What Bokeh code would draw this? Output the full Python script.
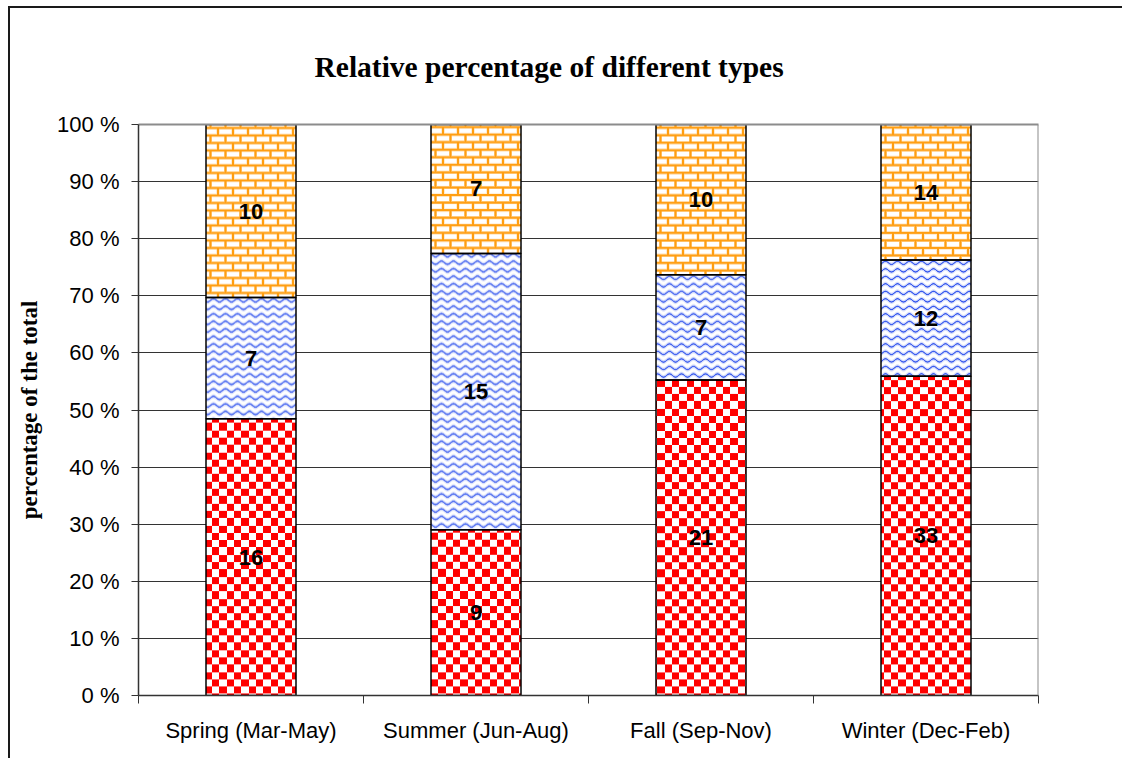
import numpy as np
from bokeh.plotting import figure
from bokeh.models import FixedTicker, Span, Range1d, LinearAxis
from bokeh.core.properties import value
from bokeh.embed import file_html
from bokeh.resources import INLINE

# Counts per season for the three types (bottom -> top of each stack)
seasons = ["Spring (Mar-May)", "Summer (Jun-Aug)", "Fall (Sep-Nov)", "Winter (Dec-Feb)"]
type_red = [16, 9, 21, 33]
type_blue = [7, 15, 7, 12]
type_orange = [10, 7, 10, 14]

y_ticks = [0, 10, 20, 30, 40, 50, 60, 70, 80, 90, 100]
y_tick_labels = ["0 %", "10 %", "20 %", "30 %", "40 %", "50 %", "60 %", "70 %", "80 %", "90 %", "100 %"]

# Convert counts into stacked percentage segments
counts = np.array([type_red, type_blue, type_orange], dtype=float)
totals = counts.sum(axis=0)
pct = counts / totals * 100.0
tops = np.cumsum(pct, axis=0)
bottoms = tops - pct
x_pos = np.arange(len(seasons)) + 0.5
bar_width = 0.4

# Figure geometry (pixels)
FIG_W, FIG_H = 1114, 752
BORDER_L, BORDER_R, BORDER_T, BORDER_B = 128, 86, 116, 65
FRAME_W = FIG_W - BORDER_L - BORDER_R
FRAME_H = FIG_H - BORDER_T - BORDER_B
FRAME_LEFT_PAGE = 8 + 2 + BORDER_L      # page x of the plotting frame's left edge
FRAME_BOTTOM_PAGE = 6 + 2 + BORDER_T + FRAME_H
PX_X = FRAME_W / len(seasons)
PX_Y = FRAME_H / 100.0


def _rgba(r, g, b):
    h, w = r.shape
    out = np.empty((h, w, 4), dtype=np.uint8)
    out[..., 0] = np.clip(r, 0, 255)
    out[..., 1] = np.clip(g, 0, 255)
    out[..., 2] = np.clip(b, 0, 255)
    out[..., 3] = 255
    return out.view(np.uint32).reshape(h, w)


def _blend(a, rgb):
    return [255 * (1 - a) + c * a for c in rgb]


def pattern_fill(kind, h, w, gx0, gy0):
    """Pattern pixels for a bar segment; row 0 is the bottom row."""
    X = gx0 + np.arange(w)[None, :] + 0.5 + np.zeros((h, 1))
    Y = gy0 - np.arange(h)[:, None] - 0.5 + np.zeros((1, w))
    if kind == "checker":
        cell = 7.3
        par = (np.floor(X / cell) + np.floor(Y / cell)) % 2
        a = (par == 0).astype(float)
        return _rgba(*_blend(a, (255, 0, 0)))
    if kind == "wave":
        per, lam, amp = 7.5, 12.0, 1.6
        ph = Y - amp * np.sin(2 * np.pi * X / lam)
        d = np.abs(((ph + per / 2) % per) - per / 2)
        core = np.clip(1.35 - d / 0.85, 0, 1)
        halo = np.clip(1 - d / 2.6, 0, 1) * 0.45
        a = np.maximum(core, halo)
        return _rgba(*_blend(a, (56, 90, 238)))
    # brick
    row_h, bw, m = 7.5, 15.0, 2.4
    yy = Y % row_h
    dy = np.minimum(yy, row_h - yy)
    row_idx = np.floor(Y / row_h)
    xx = (X + (row_idx % 2) * bw / 2) % bw
    dx = np.minimum(xx, bw - xx)
    d = np.minimum(dx, dy)
    a = np.clip(m / 2 + 0.5 - d, 0, 1)
    return _rgba(*_blend(a, (255, 158, 18)))


p = figure(
    width=FIG_W, height=FIG_H,
    x_range=Range1d(0, len(seasons)), y_range=Range1d(0, 100),
    output_backend="svg", toolbar_location=None,
    min_border_left=BORDER_L, min_border_right=BORDER_R,
    min_border_top=BORDER_T, min_border_bottom=BORDER_B,
    background_fill_color="white", border_fill_color="white",
)
p.styles = {
    "margin-left": "8px", "margin-top": "6px",
    "border-left": "2px solid #1a1a1a", "border-top": "2px solid #1a1a1a",
}
p.outline_line_color = None

xa = p.below[0]
ya = p.left[0]

# Top edge of the plotting area (a bare axis line)
top_edge = LinearAxis(
    ticker=FixedTicker(ticks=[]), major_tick_out=0, major_tick_in=0,
    major_tick_line_color=None, minor_tick_line_color=None,
    major_label_standoff=0, axis_line_color="#8c8c8c", axis_line_width=2,
)
p.add_layout(top_edge, "above")

# Title
p.title.text = "Relative percentage of different types"
p.title.text_font = "Liberation Serif"
p.title.text_font_style = "bold"
p.title.text_font_size = "29.5px"
p.title.text_color = "#000000"
p.title.align = "left"
p.title.vertical_align = "top"
p.title.offset = 176
p.title.standoff = 80

# Grid
p.xgrid.grid_line_color = None
p.ygrid.ticker = FixedTicker(ticks=y_ticks[1:-1])
p.ygrid.grid_line_color = "#333333"
p.ygrid.grid_line_width = 1

# Right edge of the plotting area
p.add_layout(Span(location=len(seasons), dimension="height", line_color="#8c8c8c", line_width=2))

# Stacked bars: patterned fills, then outlines
kinds = ["checker", "wave", "brick"]
for i, kind in enumerate(kinds):
    imgs, xs, ys, dws, dhs = [], [], [], [], []
    for j in range(len(seasons)):
        h = max(1, int(round(pct[i, j] * PX_Y)))
        w = int(round(bar_width * PX_X))
        gx0 = FRAME_LEFT_PAGE + (x_pos[j] - bar_width / 2) * PX_X
        gy0 = FRAME_BOTTOM_PAGE - bottoms[i, j] * PX_Y
        imgs.append(pattern_fill(kind, h, w, gx0, gy0))
        xs.append(x_pos[j] - bar_width / 2)
        ys.append(bottoms[i, j])
        dws.append(bar_width)
        dhs.append(pct[i, j])
    p.image_rgba(image=imgs, x=xs, y=ys, dw=dws, dh=dhs)

for i in range(3):
    p.vbar(x=x_pos, bottom=bottoms[i], top=tops[i], width=bar_width,
           fill_color=None, line_color="#000000", line_width=1.5)

# Count labels in the middle of each segment
for i in range(3):
    p.text(
        x=x_pos, y=(bottoms[i] + tops[i]) / 2,
        text=[str(v) for v in counts[i].astype(int)],
        text_align="center", text_baseline="middle",
        text_font=value("Liberation Sans"), text_font_style="bold",
        text_font_size="22px", text_color="#000000",
    )

# X axis: category names at bar centres, ticks at category boundaries
xa.ticker = FixedTicker(ticks=list(x_pos), minor_ticks=list(range(len(seasons) + 1)))
xa.major_label_overrides = {float(x): s for x, s in zip(x_pos, seasons)}
xa.major_tick_out = 0
xa.major_tick_in = 0
xa.minor_tick_out = 8
xa.minor_tick_in = 0
xa.minor_tick_line_color = "#333333"
xa.axis_line_color = "#333333"
xa.axis_line_width = 1.5
xa.major_label_text_font = "Liberation Sans"
xa.major_label_text_font_size = "22px"
xa.major_label_text_color = "#000000"
xa.major_label_standoff = 14

# Y axis
ya.ticker = FixedTicker(ticks=y_ticks)
ya.major_label_overrides = {t: s for t, s in zip(y_ticks, y_tick_labels)}
ya.major_tick_out = 7
ya.major_tick_in = 0
ya.minor_tick_line_color = None
ya.major_tick_line_color = "#333333"
ya.axis_line_color = "#333333"
ya.axis_line_width = 1.5
ya.major_label_text_font = "Liberation Sans"
ya.major_label_text_font_size = "22px"
ya.major_label_text_color = "#000000"
ya.major_label_standoff = 12
ya.axis_label = "percentage of the total"
ya.axis_label_text_font = "Liberation Serif"
ya.axis_label_text_font_style = "bold"
ya.axis_label_text_font_size = "23px"
ya.axis_label_text_color = "#000000"
ya.axis_label_standoff = 12

open("out.html", "w").write(file_html(p, INLINE))
